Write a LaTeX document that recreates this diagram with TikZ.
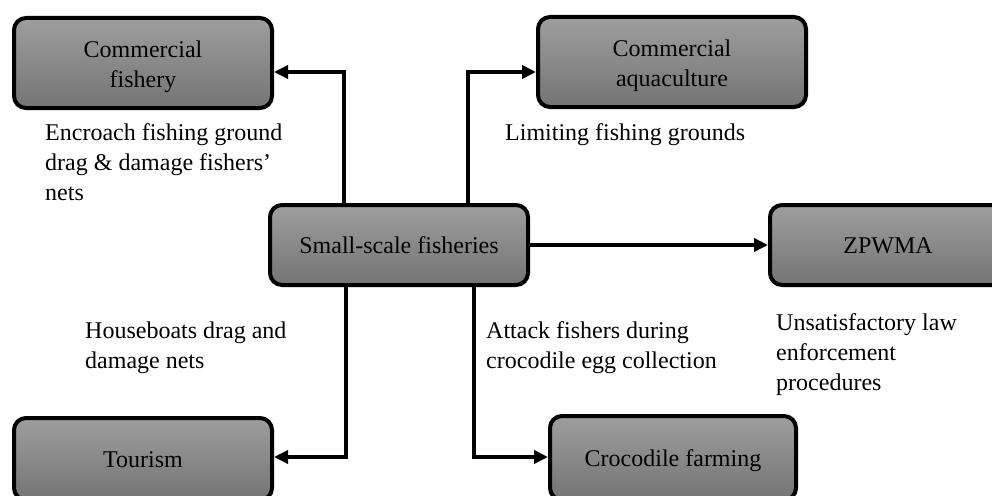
\documentclass[tikz,border=0pt]{standalone}
\usepackage{fontspec}
\setmainfont{Liberation Serif}
\usetikzlibrary{positioning, arrows.meta}
\definecolor{boxtop}{RGB}{158,158,158}
\definecolor{boxbot}{RGB}{116,116,116}

\begin{document}
\begin{tikzpicture}[x=1pt, y=-1pt,
            every node/.style={font=\fontsize{24}{30}\selectfont},
            bx/.style={draw, line width=4pt, rounded corners=12pt, top color=boxtop,
              bottom color=boxbot, align=center, inner sep=0pt},
            bxa/.style={bx, text height=17pt, text depth=0pt},
            bxb/.style={bx, text height=55pt},
            lb/.style={anchor=north west, align=left, inner sep=0pt},
            ->/.style={-{Triangle[length=14pt, width=13pt]}, line width=3.5pt}]
          \useasboundingbox (0,0) rectangle (992,495);
          % boxes
          \node[bxb, minimum width=258pt, minimum height=90pt] (cfish) at (143,63) {Commercial\\fishery};
          \node[bxb, minimum width=268pt, minimum height=90pt] (caqua) at (672,62) {Commercial\\aquaculture};
          \node[bxa, minimum width=258pt, minimum height=80pt] (ssf) at (399,245) {Small-scale fisheries};
          \node[bxa, minimum width=236pt, minimum height=80pt] (zpwma) at (888,245) {ZPWMA};
          \node[bxa, minimum width=258pt, minimum height=82pt] (tour) at (143,459) {Tourism};
          \node[bxa, minimum width=246pt, minimum height=84pt] (croc) at (673,458) {Crocodile farming};
          % labels
          \node[lb] (enc) at (45,123) {Encroach fishing ground\\drag \& damage fishers'\\nets};
          \node[lb] (lim) at (505,123) {Limiting fishing grounds};
          \node[lb] (house) at (85,322) {Houseboats drag and\\damage nets};
          \node[lb] (attack) at (486,321) {Attack fishers during\\crocodile egg collection};
          \node[lb] (unsat) at (776,313) {Unsatisfactory law\\enforcement\\procedures};
          % arrows
          \draw [->] ([xshift=-55pt]ssf.north) |- ([yshift=-9pt]cfish.east);
          \draw [->] ([xshift=69pt]ssf.north) |- ([yshift=-10pt]caqua.west);
          \draw [->] (ssf.east) -- (zpwma.west);
          \draw [->] ([xshift=-53pt]ssf.south) |- ([yshift=2pt]tour.east);
          \draw [->] ([xshift=75pt]ssf.south) |- ([yshift=1pt]croc.west);
        \end{tikzpicture}
\end{document}
